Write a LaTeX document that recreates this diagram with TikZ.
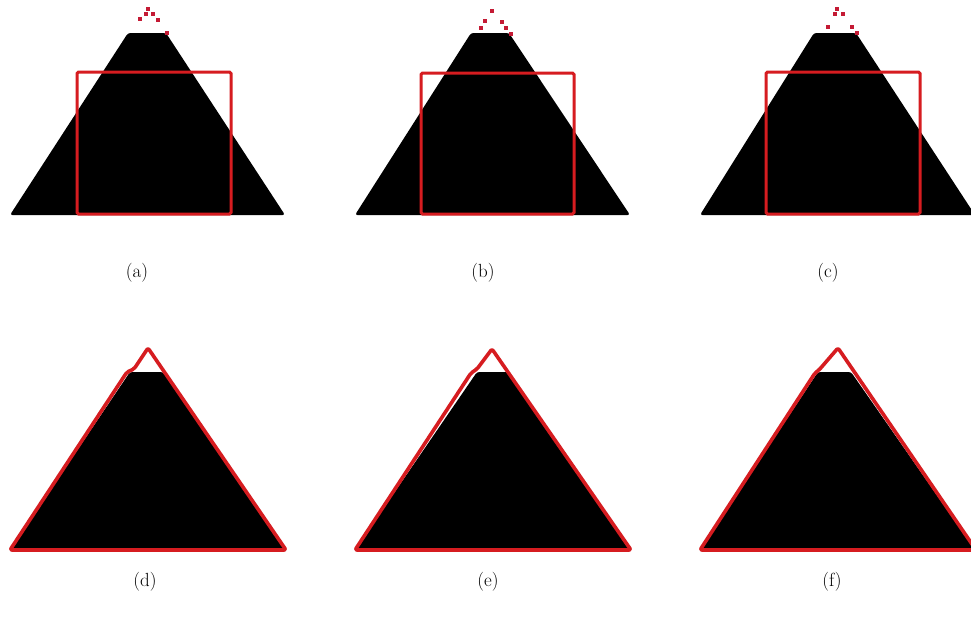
\documentclass[tikz,border=0pt]{standalone}
\usepackage{xcolor}
\definecolor{boxred}{RGB}{214,28,32}
\definecolor{dotred}{RGB}{196,26,52}
\tikzset{
  boxline/.style={draw=boxred, line width=3pt, rounded corners=1.5pt},
  hullline/.style={draw=boxred, line width=3.6pt, line join=round, rounded corners=2pt},
  blackshape/.style={fill=black, rounded corners=2.5pt},
  dotpix/.style={fill=dotred},
  caption/.style={font=\fontsize{19}{22}\selectfont, inner sep=0pt}
}
\newcommand{\pxdot}[2]{\fill[dotpix] (#1-1.8,#2-1.8) rectangle (#1+1.8,#2+1.8);}
\begin{document}
\begin{tikzpicture}[x=1pt,y=-1pt]
\useasboundingbox (0,0) rectangle (971,630);
\fill[white] (0,0) rectangle (971,630);

% ---------- (a)
\begin{scope}[xshift=0pt]
  \fill[blackshape] (128,33) -- (166,33) -- (285,215) -- (10,215) -- cycle;
  \draw[boxline] (77,72) rectangle (231,214);
  \pxdot{140}{19}\pxdot{146}{14}\pxdot{148}{9}\pxdot{153}{14}\pxdot{158}{20}\pxdot{167}{33}
\end{scope}
% ---------- (b)
\begin{scope}[xshift=345pt]
  \fill[blackshape] (126,33) -- (164,33) -- (285,215) -- (10,215) -- cycle;
  \draw[boxline] (76,73) rectangle (229,214);
  \pxdot{147}{11}\pxdot{140}{21}\pxdot{136}{28}\pxdot{157}{22}\pxdot{161}{28}\pxdot{166}{34}
\end{scope}
% ---------- (c)
\begin{scope}[xshift=690pt]
  \fill[blackshape] (124,33) -- (166,33) -- (285,215) -- (10,215) -- cycle;
  \draw[boxline] (76,72) rectangle (230,214);
  \pxdot{147}{9}\pxdot{145}{14}\pxdot{153}{14}\pxdot{138}{27}\pxdot{162}{27}\pxdot{167}{33}
\end{scope}

% ---------- (d)
\begin{scope}[xshift=0pt]
  \fill[blackshape] (130,372) -- (163,372) -- (285,550) -- (10,550) -- cycle;
  \draw[hullline] (10,550) -- (127,372) -- (134,369) -- (148,348) -- (286,550) -- cycle;
\end{scope}
% ---------- (e)
\begin{scope}[xshift=345pt]
  \fill[blackshape] (132,372) -- (163,372) -- (285,550) -- (10,550) -- cycle;
  \draw[hullline] (10,550) -- (126,373) -- (132,369) -- (147,349) -- (286,550) -- cycle;
\end{scope}
% ---------- (f)
\begin{scope}[xshift=690pt]
  \fill[blackshape] (128,372) -- (161,372) -- (285,550) -- (10,550) -- cycle;
  \draw[hullline] (10,550) -- (125,373) -- (129,370) -- (148,348) -- (286,550) -- cycle;
\end{scope}

% ---------- captions
\node[caption] (capa) at (137,273) {(a)};
\node[caption] (capb) at (483,273) {(b)};
\node[caption] (capc) at (828,273) {(c)};
\node[caption] (capd) at (145,582) {(d)};
\node[caption] (cape) at (488,582) {(e)};
\node[caption] (capf) at (832,582) {(f)};
\end{tikzpicture}
\end{document}
